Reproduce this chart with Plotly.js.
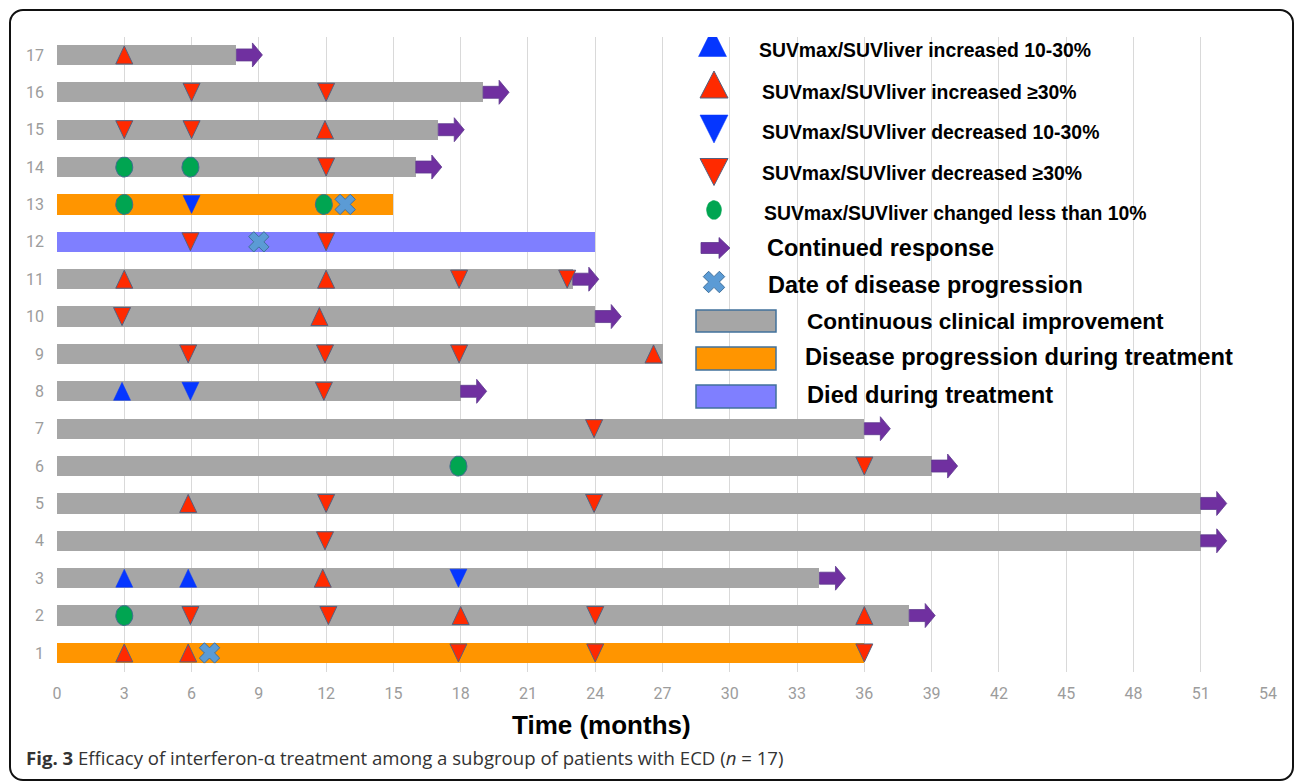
<!DOCTYPE html>
<html>
<head>
<meta charset="utf-8">
<script src="https://cdn.plot.ly/plotly-3.0.1.min.js"></script>
<style>
  html, body { margin: 0; padding: 0; background: #ffffff; }
  #wrap { position: relative; width: 1295px; height: 782px; overflow: hidden; }
  #chart { position: absolute; left: 0; top: 0; width: 1295px; height: 782px; }
  #frame { position: absolute; left: 9px; top: 9px; width: 1285px; height: 772px; box-sizing: border-box;
           border: 2px solid #111; border-radius: 14px; pointer-events: none; }
</style>
</head>
<body>
<div id="wrap"><div id="chart"></div><div id="frame"></div></div>
<script>
// ---------------- DATA ----------------
const patients = [1,2,3,4,5,6,7,8,9,10,11,12,13,14,15,16,17];
const treatmentMonths = [36,38,34,51,51,39,36,18,27,24,23,24,15,16,17,19,8];
const outcome = ['progression','improvement','improvement','improvement','improvement','improvement','improvement',
                 'improvement','improvement','improvement','improvement','died','progression','improvement',
                 'improvement','improvement','improvement'];
const continuedResponse = [2,3,4,5,6,7,8,10,11,14,15,16,17];

// SUVmax/SUVliver increased 10-30%
const incr10Patient = [3,3,8];
const incr10Month   = [3.0,5.85,2.9];
// SUVmax/SUVliver increased >=30%
const incr30Patient = [1,1,2,2,3,5,9,10,11,11,15,17];
const incr30Month   = [3.0,5.85,18.0,36.0,11.85,5.85,26.6,11.7,3.0,12.0,11.95,3.0];
// SUVmax/SUVliver decreased 10-30%
const decr10Patient = [3,8,13];
const decr10Month   = [17.9,5.95,6.0];
// SUVmax/SUVliver decreased >=30%
const decr30Patient = [1,1,1,2,2,2,4,5,5,6,7,8,9,9,9,10,11,11,12,12,14,15,15,16,16];
const decr30Month   = [17.9,24.0,36.0,5.95,12.1,24.0,11.95,12.0,23.95,36.0,23.95,11.9,5.85,11.95,17.93,2.9,17.93,22.75,5.95,12.0,12.0,3.0,6.0,6.0,12.0];
// SUVmax/SUVliver changed less than 10%
const stablePatient = [2,6,13,13,14,14];
const stableMonth   = [3.0,17.9,3.0,11.9,3.0,5.95];
// Date of disease progression
const progPatient = [1,12,13];
const progMonth   = [6.8,9.0,12.85];

const legendLabels = [
  'SUVmax/SUVliver increased 10-30%',
  'SUVmax/SUVliver increased \u226530%',
  'SUVmax/SUVliver decreased 10-30%',
  'SUVmax/SUVliver decreased \u226530%',
  'SUVmax/SUVliver changed less than 10%',
  'Continued response',
  'Date of disease progression',
  'Continuous clinical improvement',
  'Disease progression during treatment',
  'Died during treatment'
];
const xTickVals = [0,3,6,9,12,15,18,21,24,27,30,33,36,39,42,45,48,51,54];

// ---------------- STYLE ----------------
const C = {
  improvement: '#A6A6A6', progression: '#FF9500', died: '#7F7FFF',
  red: '#FF2A00', blue: '#0536FF', green: '#00A551', xfill: '#5B9BD5', xline: '#41719C',
  outline: '#55607E', arrow: '#7030A0', grid: '#D9D9D9', tick: '#9C9C9C'
};
const XR = [0, 54], YR = [0.49, 17.48];
const M = {l: 57, r: 27, t: 37, b: 110};
const W = 1295, H = 782;
const plotW = W - M.l - M.r, plotH = H - M.t - M.b;
const PX = p => p * (XR[1] - XR[0]) / plotW;   // pixels -> months
const PY = p => p * (YR[1] - YR[0]) / plotH;   // pixels -> rows

function polys(xs, ys, shapeFn) {
  const X = [], Y = [];
  xs.forEach((x, i) => {
    const pts = shapeFn(x, ys[i]);
    pts.forEach(p => { X.push(p[0]); Y.push(p[1]); });
    X.push(pts[0][0]); Y.push(pts[0][1]);
    X.push(null); Y.push(null);
  });
  return {x: X, y: Y};
}
// data-space shapes (y grows upward)
const triUp = (hw, hh) => (x, y) => [[x - PX(hw), y - PY(hh)], [x + PX(hw), y - PY(hh)], [x, y + PY(hh)]];
const triDown = (hw, hh) => (x, y) => [[x - PX(hw), y + PY(hh)], [x + PX(hw), y + PY(hh)], [x, y - PY(hh)]];
const ellipse = (rw, rh) => (x, y) => {
  const pts = [];
  for (let k = 0; k < 28; k++) { const t = 2 * Math.PI * k / 28; pts.push([x + PX(rw) * Math.cos(t), y + PY(rh) * Math.sin(t)]); }
  return pts;
};
const arrowShape = (body, len, bh, hh) => (x, y) => [
  [x, y - PY(bh)], [x + PX(body), y - PY(bh)], [x + PX(body), y - PY(hh)], [x + PX(len), y],
  [x + PX(body), y + PY(hh)], [x + PX(body), y + PY(bh)], [x, y + PY(bh)]
];

function polyTrace(p, fill, line, lw, xa, ya) {
  return {type: 'scatter', mode: 'lines', x: p.x, y: p.y, fill: 'toself', fillcolor: fill,
          line: {color: line, width: lw}, hoverinfo: 'skip', showlegend: false,
          xaxis: xa || 'x', yaxis: ya || 'y'};
}

const traces = [];
// bars
traces.push({
  type: 'bar', orientation: 'h', y: patients, x: treatmentMonths, width: 0.54,
  marker: {color: outcome.map(o => C[o]), line: {width: 0}}, hoverinfo: 'x+y', showlegend: false
});
// continued-response arrows at end of bars
const arrX = continuedResponse.map(p => treatmentMonths[patients.indexOf(p)]);
traces.push(polyTrace(polys(arrX, continuedResponse, arrowShape(16, 26, 6, 12)), C.arrow, '#5E3A8E', 0.8));
// markers
traces.push(polyTrace(polys(incr10Month, incr10Patient, triUp(8.5, 9)), C.blue, C.blue, 0.5));
traces.push(polyTrace(polys(incr30Month, incr30Patient, triUp(8.5, 9)), C.red, C.outline, 1));
traces.push(polyTrace(polys(decr10Month, decr10Patient, triDown(8.5, 9)), C.blue, C.blue, 0.5));
traces.push(polyTrace(polys(decr30Month, decr30Patient, triDown(8.5, 9)), C.red, C.outline, 1));
traces.push(polyTrace(polys(stableMonth, stablePatient, ellipse(8.5, 10)), C.green, '#3D6F8C', 1));
traces.push({type: 'scatter', mode: 'markers', x: progMonth, y: progPatient,
  marker: {symbol: 'x', size: 18, color: C.xfill, line: {color: C.xline, width: 1}},
  hoverinfo: 'x+y', showlegend: false});

// ---------------- LEGEND (pixel-space overlay axes) ----------------
// y2 is reversed: y grows downward in pixels
const pTriUp = (w, h) => (x, y) => [[x - w / 2, y + h / 2], [x + w / 2, y + h / 2], [x, y - h / 2]];
const pTriDown = (w, h) => (x, y) => [[x - w / 2, y - h / 2], [x + w / 2, y - h / 2], [x, y + h / 2]];
const pEll = (rw, rh) => (x, y) => { const a = []; for (let k = 0; k < 28; k++) { const t = 2 * Math.PI * k / 28; a.push([x + rw * Math.cos(t), y + rh * Math.sin(t)]); } return a; };
const pArrow = (x, y) => [[x, y - 5.5], [x + 18, y - 5.5], [x + 18, y - 10.5], [x + 29, y], [x + 18, y + 10.5], [x + 18, y + 5.5], [x, y + 5.5]];

traces.push(polyTrace(polys([712.5], [42.5], pTriUp(28, 28)), C.blue, C.blue, 0.5, 'x2', 'y2'));
traces.push(polyTrace(polys([714], [84.5], pTriUp(28, 27)), C.red, C.outline, 1, 'x2', 'y2'));
traces.push(polyTrace(polys([714], [129], pTriDown(28, 28)), C.blue, C.blue, 0.5, 'x2', 'y2'));
traces.push(polyTrace(polys([714], [172], pTriDown(28, 27)), C.red, C.outline, 1, 'x2', 'y2'));
traces.push(polyTrace(polys([714], [210], pEll(7.5, 9.5)), C.green, C.green, 0.5, 'x2', 'y2'));
traces.push(polyTrace(polys([701], [248], pArrow), C.arrow, '#5E3A8E', 0.8, 'x2', 'y2'));
traces.push({type: 'scatter', mode: 'markers', x: [714], y: [282], xaxis: 'x2', yaxis: 'y2',
  marker: {symbol: 'x', size: 19, color: C.xfill, line: {color: C.xline, width: 1}},
  hoverinfo: 'skip', showlegend: false});

const legendRects = [
  {y0: 310, y1: 332, color: C.improvement},
  {y0: 347, y1: 370, color: C.progression},
  {y0: 385, y1: 408, color: C.died}
];
const shapes = legendRects.map(r => ({
  type: 'rect', xref: 'x2', yref: 'y2', x0: 696, x1: 776, y0: r.y0, y1: r.y1,
  fillcolor: r.color, line: {color: '#41719C', width: 1.5}, layer: 'above'
}));

const legendTextPos = [
  [757, 50, 19.4], [760, 92, 19.4], [760, 132, 19.4], [760, 173, 19.4], [762, 213, 19.4],
  [765, 248, 23.5], [766, 285, 23.5], [805, 321.5, 22.6], [803, 356.5, 23.7], [805, 395, 23.7]
];
const annotations = legendLabels.map((t, i) => ({
  xref: 'x2', yref: 'y2', x: legendTextPos[i][0], y: legendTextPos[i][1], xanchor: 'left', yanchor: 'middle',
  text: '<b>' + t + '</b>', showarrow: false,
  font: {family: 'Liberation Sans, Arial, sans-serif', size: legendTextPos[i][2], color: '#000000'}
}));
const toPaperX = px => (px - M.l) / plotW;
const toPaperY = py => (H - M.b - py) / plotH;
annotations.push({
  xref: 'paper', yref: 'paper', x: toPaperX(601), y: toPaperY(725), xanchor: 'center', yanchor: 'middle',
  text: '<b>Time (months)</b>', showarrow: false,
  font: {family: 'Liberation Sans, Arial, sans-serif', size: 26, color: '#000000'}
});
annotations.push({
  xref: 'paper', yref: 'paper', x: toPaperX(24), y: toPaperY(757), xanchor: 'left', yanchor: 'middle',
  text: '<b>Fig. 3</b> Efficacy of interferon-\u03b1 treatment among a subgroup of patients with ECD (<i>n</i> = 17)',
  showarrow: false, font: {family: 'Open Sans, Noto Sans, sans-serif', size: 18.6, color: '#333333'}
});

const layout = {
  width: W, height: H, margin: M, paper_bgcolor: '#ffffff', plot_bgcolor: '#ffffff',
  showlegend: false, bargap: 0,
  xaxis: {range: XR, tickvals: xTickVals, ticktext: xTickVals.map(String), showgrid: true, gridcolor: C.grid, gridwidth: 1,
          zeroline: false, showline: false, ticks: '', ticklabelstandoff: 10,
          tickfont: {family: 'Roboto, sans-serif', size: 16, color: C.tick}, fixedrange: true},
  yaxis: {range: YR, tickvals: patients, ticktext: patients.map(String), showgrid: false, zeroline: false,
          showline: false, ticks: '', ticklabelstandoff: 12,
          tickfont: {family: 'Roboto, sans-serif', size: 16, color: C.tick}, fixedrange: true},
  xaxis2: {overlaying: 'x', anchor: 'y2', range: [M.l, W - M.r], visible: false, fixedrange: true},
  yaxis2: {overlaying: 'y', anchor: 'x2', range: [H - M.b, M.t], visible: false, fixedrange: true},
  shapes: shapes, annotations: annotations
};

Plotly.newPlot('chart', traces, layout, {displayModeBar: false, staticPlot: true});
</script>
</body>
</html>
